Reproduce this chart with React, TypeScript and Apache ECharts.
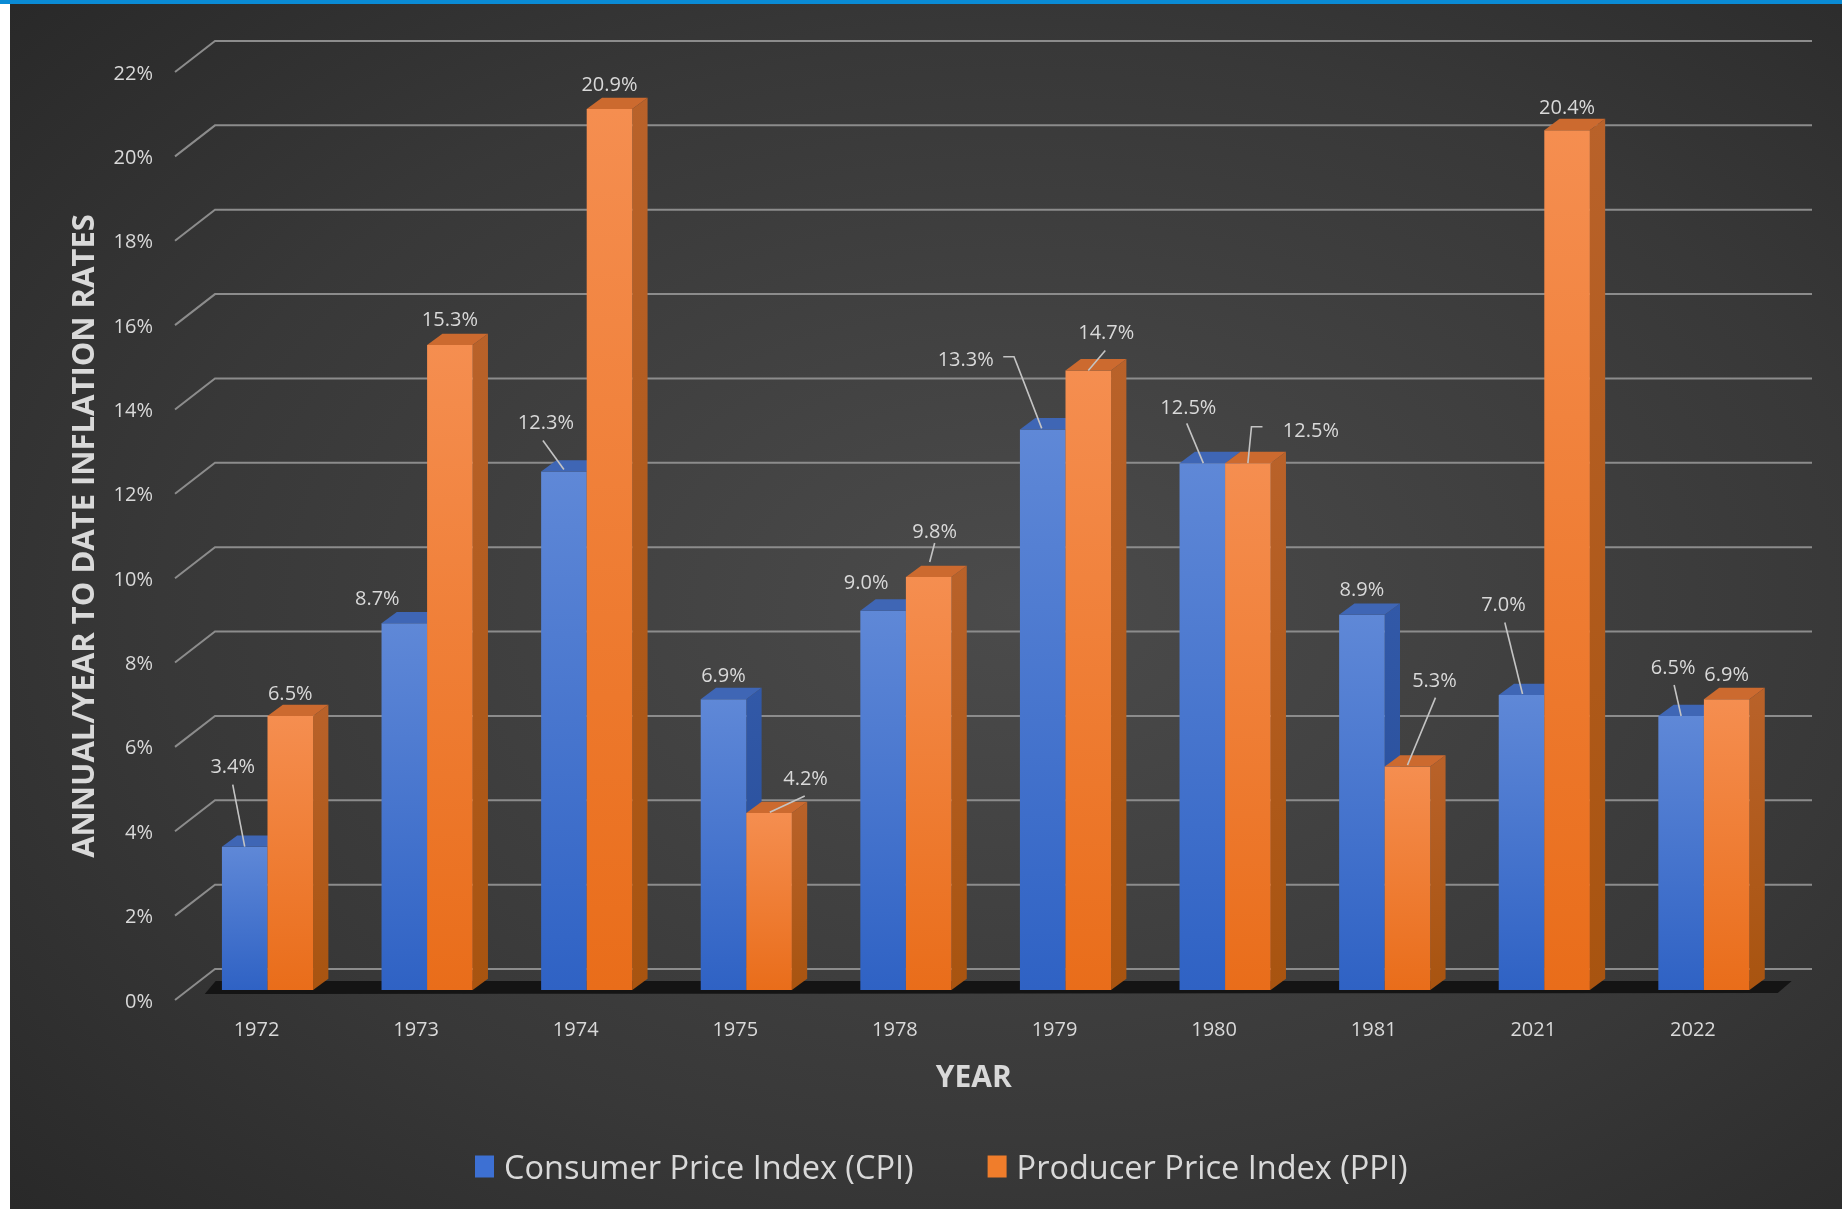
import React, { useEffect, useRef } from "react";
import * as echarts from "echarts";

// ---------- DATA ----------
const years = ["1972", "1973", "1974", "1975", "1978", "1979", "1980", "1981", "2021", "2022"];
const cpiValues = [3.4, 8.7, 12.3, 6.9, 9.0, 13.3, 12.5, 8.9, 7.0, 6.5];
const ppiValues = [6.5, 15.3, 20.9, 4.2, 9.8, 14.7, 12.5, 5.3, 20.4, 6.9];
const yTicks = [0, 2, 4, 6, 8, 10, 12, 14, 16, 18, 20, 22];
const seriesNames = ["Consumer Price Index (CPI)", "Producer Price Index (PPI)"];
const yAxisTitle = "ANNUAL/YEAR TO DATE INFLATION RATES";
const xAxisTitle = "YEAR";

// ---------- LAYOUT (label offsets relative to bar top-front centre) ----------
type LabelLayout = { dx: number; dy: number; leader?: number[][] };
const cpiLabelLayout: LabelLayout[] = [
  { dx: -12, dy: -81, leader: [[-12, -62], [0, 0]] },
  { dx: -27, dy: -26 },
  { dx: -18, dy: -50, leader: [[-21, -31], [0, -2]] },
  { dx: 0, dy: -25 },
  { dx: -17, dy: -29 },
  { dx: -77, dy: -71, leader: [[-39.5, -72.7], [-28.7, -72.7], [-1, -1]] },
  { dx: -14, dy: -57, leader: [[-15.6, -39.8], [1, 0]] },
  { dx: 0, dy: -26 },
  { dx: -18, dy: -91, leader: [[-16.7, -72.4], [1, -1]] },
  { dx: -8, dy: -50, leader: [[-7, -31], [0, 0]] },
];
const ppiLabelLayout: LabelLayout[] = [
  { dx: 0, dy: -24 },
  { dx: 0, dy: -27 },
  { dx: 0, dy: -26 },
  { dx: 36.5, dy: -35, leader: [[35.7, -17], [0.7, -0.7]] },
  { dx: 6, dy: -46, leader: [[6, -34], [1, -15]] },
  { dx: 18, dy: -39, leader: [[17, -20], [0, 0]] },
  { dx: 63, dy: -34, leader: [[14.6, -36.4], [3.6, -36.4], [0, 0]] },
  { dx: 27, dy: -87, leader: [[28, -69], [0, -1.5]] },
  { dx: 0, dy: -24 },
  { dx: 0, dy: -26 },
];

const W = 1842;
const H = 1209;
const GRID_LEFT = 187.7;
const GRID_RIGHT = 58.3;
const GRID_RIGHT_X = W - GRID_RIGHT;
const BAR_FRAC = 0.2855;
const DEPTH_X = 15.3;
const DEPTH_Y = 11.3;
const WALL_DY = 31;
const WALL_RIGHT = 1812;
const FONT = "'Open Sans', 'Noto Sans', sans-serif";
const TEXT = "#d9d9d9";

const cpiColors = { front: ["#5f88d7", "#2f62c4"], side: ["#3259a8", "#254b95"], top: "#3f66b5" };
const ppiColors = { front: ["#f58e50", "#e96d1a"], side: ["#b9622a", "#a85410"], top: "#cc6a2f" };

function barRenderer(layouts: LabelLayout[], colors: any, isCpi: boolean) {
  return (params: any, api: any) => {
    const i = api.value(0);
    const v = api.value(1);
    const idx = params.dataIndex;
    const [cx, yTop] = api.coord([i, v]);
    const [, yBase] = api.coord([i, 0]);
    const band = api.size([1, 0])[0];
    const w = band * BAR_FRAC;
    const x0 = isCpi ? cx - w : cx;
    const x1 = x0 + w;
    const ax = x0 + w / 2;
    const ay = yTop;
    const L = layouts[idx];
    const children: any[] = [
      {
        type: "polygon",
        shape: {
          points: [
            [x1, yTop],
            [x1 + DEPTH_X, yTop - DEPTH_Y],
            [x1 + DEPTH_X, yBase - DEPTH_Y],
            [x1, yBase],
          ],
        },
        style: {
          fill: new echarts.graphic.LinearGradient(0, 0, 0, 1, [
            { offset: 0, color: colors.side[0] },
            { offset: 1, color: colors.side[1] },
          ]),
        },
      },
      {
        type: "rect",
        shape: { x: x0, y: yTop, width: w, height: yBase - yTop },
        style: {
          fill: new echarts.graphic.LinearGradient(0, 0, 0, 1, [
            { offset: 0, color: colors.front[0] },
            { offset: 1, color: colors.front[1] },
          ]),
        },
      },
      {
        type: "polygon",
        shape: {
          points: [
            [x0, yTop],
            [x0 + DEPTH_X, yTop - DEPTH_Y],
            [x1 + DEPTH_X, yTop - DEPTH_Y],
            [x1, yTop],
          ],
        },
        style: { fill: colors.top },
      },
      {
        type: "text",
        z2: 100,
        style: {
          text: v.toFixed(1) + "%",
          x: ax + L.dx,
          y: ay + L.dy,
          fill: TEXT,
          fontSize: 20,
          fontFamily: FONT,
          align: "center",
          verticalAlign: "middle",
        },
      },
    ];
    if (L.leader) {
      children.push({
        type: "polyline",
        z2: 100,
        shape: { points: L.leader.map((p) => [ax + p[0], ay + p[1]]) },
        style: { stroke: "#c4c4c4", lineWidth: 1.6, fill: null },
      });
    }
    return { type: "group", children };
  };
}

function buildOption(): any {
  return {
    animation: false,
    graphic: {
      elements: [
        { type: "rect", z: -20, shape: { x: 0, y: 0, width: W, height: H }, style: { fill: "#ffffff" }, silent: true },
        {
          type: "rect",
          z: -19,
          shape: { x: 10, y: 4, width: W - 10, height: H - 4 },
          style: {
            fill: new echarts.graphic.RadialGradient(0.55, 0.5, 0.85, [
              { offset: 0, color: "#4b4b4b" },
              { offset: 0.55, color: "#383838" },
              { offset: 1, color: "#232323" },
            ]),
          },
          silent: true,
        },
        { type: "rect", z: -18, shape: { x: 0, y: 0, width: W, height: 4 }, style: { fill: "#0a8bd5" }, silent: true },
      ],
    },
    legend: {
      data: seriesNames,
      left: 470,
      top: 1145,
      itemWidth: 19,
      itemHeight: 22,
      itemGap: 74,
      icon: "rect",
      textStyle: { color: TEXT, fontSize: 32.5, fontFamily: FONT, padding: [0, 0, 0, 5] },
    },
    grid: [
      { left: GRID_LEFT, right: GRID_RIGHT, top: 62.7, bottom: H - 990 },
      { left: GRID_LEFT, right: GRID_RIGHT, top: 72, bottom: H - 1000 },
    ],
    xAxis: [
      {
        type: "category",
        gridIndex: 0,
        data: years,
        axisLine: { show: false },
        axisTick: { show: false },
        splitLine: { show: false },
        axisLabel: { color: TEXT, fontSize: 20, fontFamily: FONT, margin: 28, padding: [0, 22, 0, 0] },
        name: xAxisTitle,
        nameLocation: "middle",
        nameGap: 70,
        nameTextStyle: { color: TEXT, fontSize: 30, fontWeight: "bold", fontFamily: FONT, padding: [0, 24, 0, 0] },
      },
      { type: "category", gridIndex: 1, data: years, show: false },
    ],
    yAxis: [
      { type: "value", gridIndex: 0, min: 0, max: 22, interval: 2, show: false },
      {
        type: "value",
        gridIndex: 1,
        min: 0,
        max: 22,
        interval: 2,
        axisLine: { show: false },
        axisTick: { show: false },
        splitLine: { show: false },
        axisLabel: { formatter: "{value}%", color: TEXT, fontSize: 20, fontFamily: FONT, margin: 34.7, padding: [4, 0, 0, 0] },
        name: yAxisTitle,
        nameLocation: "middle",
        nameGap: 90,
        nameTextStyle: { color: TEXT, fontSize: 31, fontWeight: "bold", fontFamily: FONT },
      },
    ],
    series: [
      {
        type: "custom",
        name: "gridlines",
        xAxisIndex: 1,
        yAxisIndex: 1,
        z: 1,
        silent: true,
        data: yTicks.map((t) => [0, t]),
        renderItem: (params: any, api: any) => {
          const [, yF] = api.coord([0, api.value(1)]);
          const yB = yF - WALL_DY;
          return {
            type: "polyline",
            shape: { points: [[GRID_LEFT - 12.7, yF], [GRID_LEFT + 27.3, yB], [WALL_RIGHT, yB]] },
            style: { stroke: "#8c8c8c", lineWidth: 2, fill: null },
          };
        },
      },
      {
        type: "custom",
        name: "floor",
        xAxisIndex: 0,
        yAxisIndex: 0,
        z: 1,
        silent: true,
        data: [[0, 0]],
        renderItem: (params: any, api: any) => {
          const [, y0] = api.coord([0, 0]);
          return {
            type: "polygon",
            z2: 10,
            shape: {
              points: [
                [GRID_LEFT + 17, y0 + 4],
                [GRID_RIGHT_X - 6, y0 + 3],
                [GRID_RIGHT_X + 8, y0 - 9],
                [GRID_LEFT + 28, y0 - 9],
              ],
            },
            style: { fill: "#141414" },
          };
        },
      },
      {
        type: "custom",
        name: seriesNames[0],
        xAxisIndex: 0,
        yAxisIndex: 0,
        z: 2,
        itemStyle: { color: "#3d70d3" },
        data: cpiValues.map((v, i) => [i, v]),
        renderItem: barRenderer(cpiLabelLayout, cpiColors, true),
      },
      {
        type: "custom",
        name: seriesNames[1],
        xAxisIndex: 0,
        yAxisIndex: 0,
        z: 2,
        itemStyle: { color: "#f07d2b" },
        data: ppiValues.map((v, i) => [i, v]),
        renderItem: barRenderer(ppiLabelLayout, ppiColors, false),
      },
    ],
  };
}

export default function App() {
  const ref = useRef<HTMLDivElement>(null);
  useEffect(() => {
    if (!ref.current) return;
    const chart = echarts.init(ref.current, undefined, { renderer: "svg" });
    chart.setOption(buildOption());
    return () => chart.dispose();
  }, []);
  return <div ref={ref} style={{ position: "fixed", left: 0, top: 0, width: W, height: H }} />;
}
